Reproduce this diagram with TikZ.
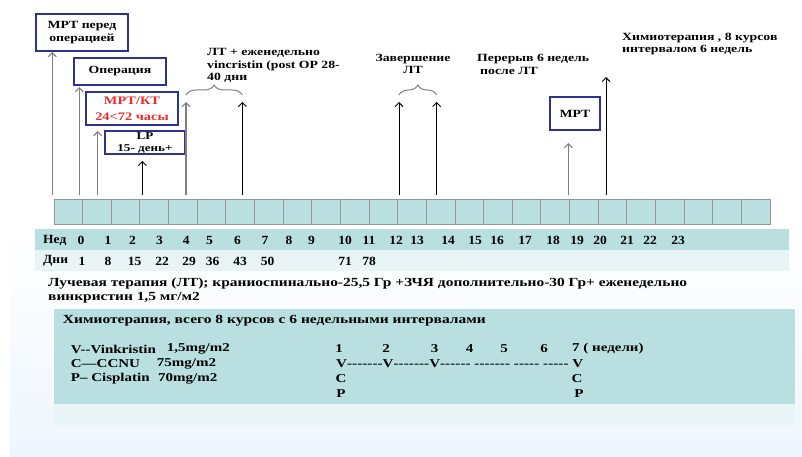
\documentclass[tikz,border=0pt]{standalone}
\usepackage{fontspec}
\setmainfont[FakeStretch=1.25]{Liberation Serif}
\newfontfamily\tabfont[FakeStretch=1.08]{Liberation Serif}
\usetikzlibrary{arrows.meta,decorations.pathreplacing,calc}
\definecolor{boxblue}{HTML}{2E3192}
\definecolor{tealA}{HTML}{B9DFE0}
\definecolor{tealB}{HTML}{E8F4F5}
\definecolor{bgblue}{HTML}{BCDAF2}
\definecolor{bgbot}{HTML}{EEF6FD}
\definecolor{redtxt}{HTML}{EE2A2A}
\definecolor{linegray}{HTML}{808080}
\definecolor{cellgray}{HTML}{959595}
\newcommand\hh{\makebox[5.1pt]{-}}
\begin{document}
\begin{tikzpicture}[x=1pt,y=-1pt,
  evbox/.style={draw=boxblue,line width=2pt,fill=white,inner sep=0pt,align=center,font=\bfseries\fontsize{11}{12.5}\selectfont},
  lbl/.style={inner sep=0pt,font=\bfseries\fontsize{11}{12.5}\selectfont},
  tab/.style={inner sep=0pt,font=\tabfont\bfseries\fontsize{12.5}{14}\selectfont},
  leg/.style={inner sep=0pt,font=\bfseries\fontsize{12}{14}\selectfont},
  upg/.style={draw=linegray,line width=1.1pt,-{Straight Barb[length=4pt,width=8pt]}},
  upb/.style={draw=black,line width=0.9pt,-{Straight Barb[length=4pt,width=8pt]}},
  brc/.style={draw=linegray,line width=1pt,decorate,decoration={brace,amplitude=10pt}},
  cell/.style={draw=cellgray,line width=0.9pt,fill=tealA}
]
\useasboundingbox (0,0) rectangle (802,457);
% background panel
\shade[top color=white,middle color=bgblue,bottom color=bgbot] (10,225) rectangle (802,457);
% week cells
\foreach \i in {0,...,24}
  \draw[cell] ({54+\i*28.64},199) rectangle ({54+(\i+1)*28.64},224.5);
% table rows
\fill[tealA] (35,229) rectangle (789,250);
\fill[tealB] (35,250) rectangle (789,271);
% chemo panel
\fill[tealA] (54,309) rectangle (795,404);
\fill[tealB] (54,404) rectangle (795,425);

% event boxes
\node[evbox,minimum width=92,minimum height=37] (mri1) at (82,32.5) {МРТ перед\\операцией};
\node[evbox,minimum width=92,minimum height=27] (op) at (120,71.5) {Операция};
\node[evbox,minimum width=92,minimum height=33,text=redtxt,font=\bfseries\fontsize{11.5}{16}\selectfont] (mrict) at (132,108.5) {МРТ/КТ\\24<72 часы};
\node[evbox,minimum width=80,minimum height=23,font=\bfseries\fontsize{10.5}{12}\selectfont] (lp) at (145,142.5) {LP\\15- день+};
\node[evbox,minimum width=50,minimum height=33] (mri2) at (575,113.5) {МРТ};

% free labels
\node[lbl,align=left,anchor=west] (ltlab) at (207,65.5) {ЛТ + еженедельно\\vincristin (post OP 28-\\40 дни};
\node[lbl,align=center] (zav) at (413,64) {Завершение\\ЛТ};
\node[lbl,align=left,anchor=west] (per) at (477,64.5) {Перерыв 6 недель\\\hspace{3pt}после ЛТ};
\node[lbl,align=left,anchor=west] (chlab) at (622,44) {Химиотерапия , 8 курсов\\интервалом 6 недель};

% arrow bases
\foreach \n/\x in {1/52.3,2/79.3,3/97.7,4/142.3,5/186,6/242.3,7/399,8/436.7,9/568.3,10/606}
  \coordinate (b\n) at (\x,195);
\coordinate (t5) at (186,102);
\coordinate (t6) at (242.3,102);
\coordinate (t7) at (399,102);
\coordinate (t8) at (436.7,102);
\coordinate (t10) at (606,77);
\draw[upg] (b1) -- (b1 |- mri1.south);
\draw[upg] (b2) -- ($(b2 |- op.south)+(0,1)$);
\draw[upg] (b3) -- ($(b3 |- mrict.south)+(0,5)$);
\draw[upb] (b4) -- ($(b4 |- lp.south)+(0,6)$);
\draw[upg] (b5) -- (t5);
\draw[upb] (b6) -- (t6);
\draw[upb] (b7) -- (t7);
\draw[upb] (b8) -- (t8);
\draw[upg] (b9) -- ($(b9 |- mri2.south)+(0,12)$);
\draw[upb] (b10) -- (t10);

% braces
\coordinate (br1a) at (186,95);
\coordinate (br1b) at (242.3,95);
\coordinate (br2a) at (399,95);
\coordinate (br2b) at (436.7,95);
\draw[brc] (br1a) -- (br1b);
\draw[brc] (br2a) -- (br2b);

% table
\node[tab,anchor=west] (ned) at (43,240) {Нед};
\foreach \n/\x in {0/81,1/108,2/132.5,3/159.6,4/186.3,5/209.6,6/237.6,7/265,8/289,9/311.5,10/345,11/369,12/396,13/417,14/448,15/475,16/497,17/525,18/553,19/577,20/600,21/627,22/650,23/678}
  \node[tab] (w\n) at (\x,240) {\n};
\node[tab,anchor=west] (dni) at (43,261) {Дни};
\foreach \n/\x in {1/82,8/108,15/134.5,22/162,29/189,36/212.5,43/240,50/267.5,71/345,78/369}
  \node[tab] (d\n) at (\x,261) {\n};

% radiotherapy text
\node[inner sep=0pt,anchor=west,align=left,font=\bfseries\fontsize{12.35}{14}\selectfont] (rt) at (48,291) {Лучевая терапия (ЛТ); краниоспинально-25,5 Гр +ЗЧЯ дополнительно-30 Гр+ еженедельно\\винкристин 1,5 мг/м2};

% chemo panel text
\node[inner sep=0pt,anchor=west,font=\bfseries\fontsize{12.4}{13}\selectfont] (ct) at (62.7,321) {Химиотерапия, всего 8 курсов с 6 недельными интервалами};
\node[leg,anchor=west] (l1a) at (70.7,349) {V-{}-Vinkristin};
\node[leg,anchor=west] (l1b) at (166.7,349) {1,5mg/m2};
\node[leg,anchor=west] (l2a) at (70.7,364) {C—CCNU};
\node[leg,anchor=west] (l2b) at (156.7,364) {75mg/m2};
\node[leg,anchor=west] (l3a) at (70.7,379) {P– Cisplatin};
\node[leg,anchor=west] (l3b) at (158,379) {70mg/m2};

\foreach \n/\x in {1/339,2/386,3/434.5,4/469.5,5/504,6/544}
  \node[leg] (c\n) at (\x,349) {\n};
\node[leg,anchor=west] (c7) at (572,349) {7 ( недели)};
\node[leg,anchor=west] (vrow) at (336,364) {V\hh\hh\hh\hh\hh\hh\hh V\hh\hh\hh\hh\hh\hh\hh V\hh\hh\hh\hh\hh\hh{} \hh\hh\hh\hh\hh\hh\hh{} \hh\hh\hh\hh\hh{} \hh\hh\hh\hh\hh{} V};
\node[leg] (cl) at (341,379) {C};
\node[leg] (pl) at (341,394) {P};
\node[leg] (cr) at (577,379) {C};
\node[leg] (pr) at (579,394) {P};
\end{tikzpicture}
\end{document}
